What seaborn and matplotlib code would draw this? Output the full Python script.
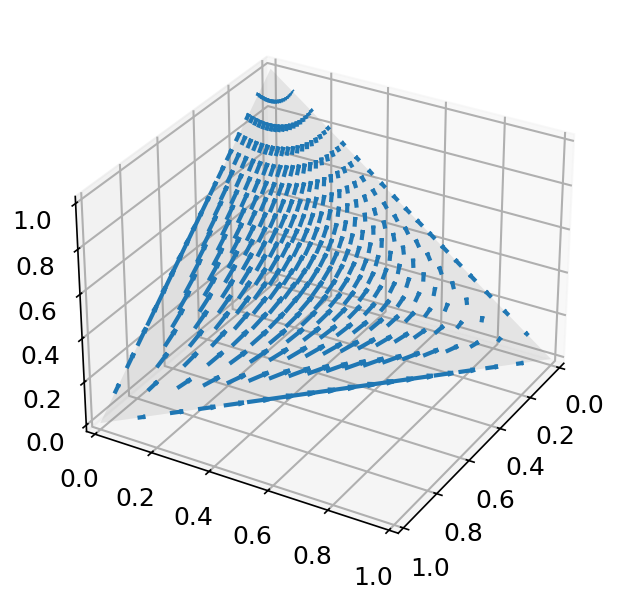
import matplotlib
matplotlib.use('Agg')
import matplotlib.pyplot as plt
import numpy as np
import pandas as pd
import seaborn as sns

# grid lines of the field
row_cot = [11.43, 5.67, 3.73, 2.75, 2.14, 1.73, 1.43, 1.19, 1.0, 0.839, 0.7, 0.577, 0.466, 0.364, 0.268, 0.176, 0.0875, 0.0]
col_bulge = [1.0, 1.083, 1.158, 1.225, 1.282, 1.329, 1.366, 1.393, 1.409, 1.414, 1.409, 1.393, 1.366, 1.329, 1.282, 1.225, 1.158, 1.083, 1.0]
col_share = [0.0, 0.08, 0.15, 0.211, 0.267, 0.318, 0.366, 0.412, 0.456, 0.5, 0.544, 0.588, 0.634, 0.682, 0.733, 0.789, 0.85, 0.92, 1.0]

# change in y per arrow, in 1e-4
arrow_dy = [
    [0, -1, -2, -2, -3, -4, -5, -6, -7, -8, -8, -9, -9, -10, -10, -10, -10, -10, -9],
    [0, -2, -4, -6, -9, -11, -13, -16, -18, -20, -22, -24, -26, -27, -29, -30, -30, -30, -30],
    [0, -3, -6, -9, -13, -16, -20, -23, -27, -31, -34, -38, -42, -45, -48, -51, -53, -54, -55],
    [0, -3, -7, -11, -14, -18, -23, -27, -32, -37, -42, -48, -53, -59, -64, -69, -74, -78, -81],
    [0, -3, -6, -10, -13, -17, -22, -27, -32, -38, -45, -52, -60, -68, -76, -85, -93, -100, -107],
    [0, -2, -4, -6, -9, -13, -17, -22, -28, -35, -43, -52, -62, -73, -84, -96, -108, -120, -132],
    [0, 0, 0, -1, -2, -5, -8, -13, -19, -27, -36, -47, -59, -73, -87, -103, -120, -138, -155],
    [0, 3, 6, 7, 8, 7, 4, 0, -6, -15, -25, -37, -51, -67, -86, -106, -128, -151, -175],
    [0, 7, 13, 18, 21, 22, 21, 17, 11, 3, -8, -22, -38, -57, -79, -104, -131, -162, -194],
    [0, 12, 23, 31, 37, 41, 41, 39, 34, 25, 14, -1, -19, -41, -67, -97, -130, -168, -209],
    [0, 19, 36, 48, 58, 64, 67, 66, 62, 54, 42, 26, 6, -19, -48, -83, -123, -170, -221],
    [0, 28, 51, 69, 83, 93, 98, 99, 96, 88, 76, 59, 37, 10, -23, -63, -110, -165, -228],
    [0, 38, 70, 95, 114, 128, 136, 139, 137, 130, 118, 101, 77, 47, 10, -35, -88, -153, -229],
    [0, 52, 94, 127, 153, 171, 183, 189, 189, 183, 171, 153, 129, 96, 56, 5, -56, -131, -222],
    [0, 70, 125, 167, 200, 224, 240, 249, 251, 247, 236, 218, 192, 159, 115, 59, -10, -96, -204],
    [0, 92, 164, 219, 260, 291, 312, 325, 330, 327, 318, 301, 275, 239, 193, 133, 56, -42, -168],
    [0, 123, 217, 285, 338, 376, 403, 421, 429, 430, 422, 407, 381, 346, 298, 234, 151, 40, -106],
    [0, 166, 287, 375, 440, 488, 522, 545, 558, 563, 558, 545, 522, 488, 440, 375, 287, 166, 0],
]

# change in z per arrow, in 1e-4
arrow_dz = [
    [23, 25, 27, 28, 29, 30, 30, 30, 30, 29, 28, 26, 24, 22, 20, 17, 15, 12, 9],
    [72, 78, 83, 86, 88, 90, 90, 90, 88, 85, 82, 77, 72, 66, 59, 52, 45, 37, 30],
    [134, 142, 148, 153, 156, 157, 156, 155, 151, 147, 140, 133, 125, 115, 105, 93, 81, 68, 55],
    [198, 208, 214, 219, 221, 221, 219, 216, 211, 204, 196, 186, 175, 162, 148, 133, 117, 99, 81],
    [262, 271, 276, 280, 280, 279, 275, 270, 263, 254, 244, 233, 219, 205, 188, 170, 151, 129, 107],
    [323, 330, 333, 334, 332, 329, 323, 316, 308, 297, 286, 273, 258, 242, 224, 203, 182, 157, 132],
    [379, 383, 383, 381, 377, 371, 364, 355, 344, 333, 320, 306, 290, 273, 254, 232, 209, 183, 155],
    [430, 430, 427, 421, 414, 405, 396, 385, 373, 360, 346, 332, 315, 298, 278, 257, 233, 205, 175],
    [475, 470, 462, 453, 442, 431, 419, 407, 394, 380, 366, 351, 334, 317, 297, 276, 252, 225, 194],
    [512, 501, 489, 476, 462, 449, 435, 421, 407, 392, 378, 363, 347, 329, 311, 290, 267, 240, 209],
    [542, 524, 507, 490, 473, 457, 441, 426, 411, 396, 382, 367, 352, 335, 318, 298, 276, 251, 221],
    [559, 536, 513, 492, 472, 454, 437, 421, 406, 391, 377, 363, 349, 334, 318, 300, 280, 256, 228],
    [562, 532, 505, 481, 459, 439, 421, 405, 390, 375, 362, 349, 336, 323, 309, 293, 276, 254, 229],
    [545, 510, 479, 453, 429, 409, 390, 374, 360, 346, 334, 322, 311, 300, 288, 276, 261, 244, 222],
    [500, 461, 429, 402, 379, 359, 341, 326, 313, 301, 291, 281, 272, 263, 255, 245, 234, 221, 204],
    [412, 375, 345, 320, 299, 282, 267, 254, 244, 235, 226, 219, 213, 207, 201, 195, 188, 179, 168],
    [259, 232, 210, 193, 179, 168, 158, 150, 144, 138, 134, 130, 126, 123, 120, 118, 115, 111, 105],
    [0, 0, 0, 0, 0, 0, 0, 0, 0, 0, 0, 0, 0, 0, 0, 0, 0, 0, 0],
]

# upper rows come out short against the dash lengths measured in the picture
row_gain = [3.6, 2.5, 1.8, 1.6, 1.35, 1.2, 1.1, 1.05, 1, 1, 1, 1, 1, 1, 1, 1, 1, 1]

ticks = [0.0, 0.2, 0.4, 0.6, 0.8, 1.0]

sns.set_palette('tab10')
blue = sns.color_palette('tab10')[0]
plt.rcParams['grid.linewidth'] = 1.0

# one line per arrow
cot, bulge = np.meshgrid(row_cot, col_bulge, indexing='ij')
share = np.meshgrid(row_cot, col_share, indexing='ij')[1]
z = cot / (cot + bulge)
gain = np.array(row_gain)[:, None]
df = pd.DataFrame({
    'x': ((1 - z) * (1 - share)).ravel(),
    'y': ((1 - z) * share).ravel(),
    'z': z.ravel(),
    'dy': (np.array(arrow_dy) * gain).ravel() / 1e4,
    'dz': (np.array(arrow_dz) * gain).ravel() / 1e4,
})
df['dx'] = -df['dy'] - df['dz']

fig = plt.figure(figsize=(617 / 150, 603 / 150), dpi=150)
ax = fig.add_axes([0.062, 0.056, 0.92, 0.92], projection='3d')

ax.plot_trisurf([1, 0, 0], [0, 1, 0], [0, 0, 1], color='gray', alpha=0.16, shade=False)
ax.quiver(df['x'], df['y'], df['z'], df['dx'], df['dy'], df['dz'], color=blue, linewidths=2.0)

ax.view_init(azim=30)
ax.set_xlim(-0.03, 1.03)
ax.set_ylim(-0.03, 1.03)
ax.set_zlim(-0.03, 1.03)
ax.set_xticks(ticks)
ax.set_yticks(ticks)
ax.set_zticks(ticks)
ax.tick_params(labelsize=12)

plt.savefig('out.png', dpi=150)
plt.close()
